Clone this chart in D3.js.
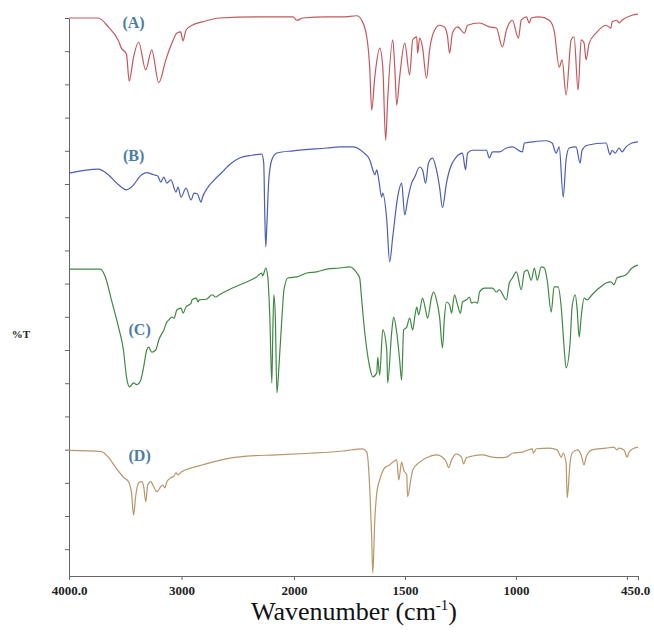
<!DOCTYPE html>
<html>
<head>
<meta charset="utf-8">
<script src="https://cdn.jsdelivr.net/npm/d3@7"></script>
<style>
  body { margin: 0; background: #fff; }
  svg { display: block; }
</style>
</head>
<body>
<svg id="chart" width="654" height="634"></svg>
<script>
// ---- DATA: [wavenumber (cm-1), %T (offset display units)] ----
const specA = [
[4000,100.0],[3740,100.0],[3650,98.4],[3560,95.9],[3534,94.6],[3489,93.5],[3465,88.7],[3426,93.0],[3381,95.7],[3318,90.7],[3265,94.3],[3202,88.4],[3139,92.5],[3085,95.5],[3040,97.3],[3007,97.5],[2987,95.9],[2960,97.8],[2906,98.7],[2816,99.3],[2664,100.0],[2305,100.2],[2009,100.2],[1987,99.6],[1960,100.0],[1852,100.2],[1780,100.2],[1717,100.4],[1695,99.6],[1672,96.6],[1659,91.2],[1650,83.5],[1636,89.4],[1614,94.6],[1600,91.2],[1587,78.1],[1578,85.3],[1555,96.1],[1546,91.2],[1537,84.4],[1524,89.4],[1501,95.5],[1479,89.8],[1465,96.1],[1447,96.6],[1443,93.7],[1434,96.4],[1421,94.8],[1403,89.2],[1389,94.3],[1367,97.8],[1344,98.7],[1322,98.4],[1308,96.6],[1299,93.7],[1286,97.3],[1263,98.4],[1232,97.3],[1218,98.7],[1164,99.1],[1120,98.4],[1088,98.2],[1061,94.8],[1043,97.8],[1016,99.6],[989,96.4],[976,99.6],[953,100.2],[940,99.1],[931,100.0],[895,100.2],[850,99.6],[828,97.8],[805,91.2],[792,92.5],[774,86.2],[751,96.1],[738,96.6],[720,87.1],[706,96.1],[693,95.5],[684,92.5],[670,95.5],[639,97.3],[594,98.7],[572,98.2],[567,99.3],[545,99.6],[535,99.1],[522,99.6],[477,100.5],[450,100.7]
];
const specB = [
[4000,72.2],[3740,72.9],[3650,71.9],[3560,70.1],[3489,69.2],[3444,69.7],[3354,71.9],[3309,72.3],[3247,71.9],[3211,71.7],[3184,70.6],[3157,71.5],[3130,70.4],[3094,71.0],[3049,68.8],[3031,69.7],[3004,67.9],[2960,69.5],[2915,67.4],[2888,68.6],[2861,68.5],[2825,67.0],[2816,67.7],[2771,69.5],[2708,71.0],[2637,72.4],[2574,73.7],[2484,74.9],[2376,75.4],[2287,75.6],[2269,74.0],[2260,65.1],[2251,59.0],[2242,62.5],[2224,71.0],[2197,74.6],[2152,75.8],[2009,76.2],[1852,76.7],[1793,76.9],[1735,76.9],[1690,76.0],[1659,74.6],[1645,72.8],[1636,71.9],[1627,72.8],[1618,71.0],[1605,67.9],[1600,68.6],[1582,63.8],[1569,56.3],[1555,60.8],[1533,67.9],[1515,70.4],[1501,64.7],[1488,67.4],[1470,70.4],[1456,71.5],[1434,73.3],[1421,72.8],[1407,70.4],[1394,74.0],[1376,74.9],[1358,72.8],[1344,69.7],[1331,66.0],[1313,70.4],[1299,72.8],[1268,75.1],[1241,75.8],[1227,72.8],[1218,75.8],[1196,76.3],[1133,76.3],[1120,74.9],[1106,76.0],[1075,76.0],[1043,76.7],[1016,76.9],[971,76.0],[962,77.6],[926,77.8],[864,78.0],[837,77.6],[819,75.8],[805,76.9],[787,67.9],[774,74.6],[760,76.7],[729,76.9],[711,74.0],[702,76.3],[679,77.2],[594,77.6],[576,75.5],[567,76.3],[553,75.8],[535,76.7],[522,76.0],[504,76.9],[477,77.6],[450,77.8]
];
const specC = [
[4000,55.0],[3722,55.0],[3677,53.6],[3623,49.5],[3560,44.6],[3516,40.5],[3489,35.7],[3462,33.9],[3426,34.6],[3399,34.3],[3363,35.1],[3336,37.5],[3309,40.5],[3291,41.0],[3264,40.1],[3229,40.5],[3202,42.3],[3157,44.1],[3130,45.5],[3112,45.9],[3085,46.4],[3067,46.2],[3040,47.7],[3004,48.0],[2986,47.1],[2960,48.2],[2915,48.9],[2906,49.5],[2870,49.8],[2852,49.1],[2843,49.5],[2780,49.6],[2726,50.4],[2699,50.0],[2664,50.4],[2547,51.6],[2421,52.7],[2332,53.6],[2287,54.3],[2278,53.8],[2251,55.2],[2233,53.6],[2215,46.4],[2197,34.6],[2188,44.1],[2179,50.4],[2166,46.4],[2152,32.8],[2134,37.5],[2107,46.4],[2089,51.3],[2054,53.4],[1987,53.6],[1942,54.3],[1897,54.5],[1852,55.0],[1793,55.2],[1748,55.4],[1717,54.3],[1704,53.4],[1695,49.5],[1681,43.6],[1659,37.5],[1645,35.7],[1627,36.4],[1623,39.2],[1614,36.0],[1600,44.1],[1582,40.5],[1578,34.6],[1560,43.6],[1551,46.4],[1537,43.6],[1524,38.7],[1515,35.1],[1506,44.1],[1492,44.6],[1479,46.2],[1465,44.1],[1456,46.4],[1447,48.2],[1438,46.8],[1421,49.8],[1407,47.7],[1398,46.2],[1380,50.0],[1371,50.9],[1358,49.5],[1344,46.4],[1331,40.9],[1322,46.4],[1313,49.1],[1299,48.6],[1290,47.1],[1277,50.4],[1263,48.6],[1250,47.1],[1241,49.1],[1223,49.5],[1209,50.0],[1200,48.9],[1187,49.1],[1173,48.9],[1164,50.9],[1142,51.6],[1106,51.6],[1088,50.9],[1075,51.3],[1043,49.5],[1030,52.5],[1016,53.4],[998,54.5],[976,51.3],[962,54.5],[949,54.8],[931,53.0],[917,55.2],[904,53.0],[886,55.4],[872,55.2],[859,53.0],[841,47.3],[828,51.8],[810,51.8],[796,48.2],[783,41.0],[774,37.3],[756,41.8],[747,48.2],[733,50.4],[724,47.7],[715,42.8],[706,46.4],[693,49.8],[679,49.5],[657,50.4],[625,51.6],[594,52.5],[572,52.7],[558,52.2],[545,53.4],[504,54.0],[477,55.2],[450,55.7]
];
const specD = [
[4000,22.5],[3713,22.3],[3650,21.3],[3587,19.5],[3516,17.7],[3471,16.9],[3444,14.9],[3426,10.9],[3408,14.2],[3381,16.7],[3354,16.9],[3336,16.0],[3318,13.3],[3300,16.3],[3273,16.9],[3247,16.0],[3220,15.1],[3184,16.0],[3166,16.3],[3148,15.8],[3130,16.9],[3094,17.6],[3067,17.9],[3049,18.5],[3031,18.1],[3004,18.6],[2906,19.4],[2816,19.9],[2690,20.6],[2547,21.2],[2421,21.5],[2152,21.7],[1928,22.0],[1780,22.4],[1690,22.8],[1672,22.2],[1659,16.0],[1650,7.0],[1645,0.5],[1636,10.0],[1627,14.9],[1614,17.2],[1591,19.4],[1569,19.9],[1555,20.4],[1537,20.8],[1528,17.2],[1515,20.4],[1506,19.0],[1492,18.1],[1488,14.2],[1474,17.2],[1465,19.0],[1434,20.4],[1403,21.2],[1358,21.7],[1331,21.3],[1313,20.4],[1304,19.4],[1290,20.8],[1268,21.9],[1245,21.3],[1236,20.1],[1223,21.2],[1196,21.5],[1151,21.7],[1106,21.3],[1075,21.2],[1043,21.3],[1016,22.0],[971,22.2],[926,22.8],[922,22.0],[908,22.8],[850,22.9],[814,22.6],[796,21.3],[787,22.0],[774,20.3],[769,14.0],[756,20.3],[747,22.0],[724,22.6],[706,21.7],[693,19.9],[684,21.3],[657,22.6],[594,22.9],[558,23.1],[545,22.6],[535,22.9],[513,22.6],[499,21.3],[490,22.2],[468,22.9],[450,23.1]
];
const seriesLabels = ["(A)", "(B)", "(C)", "(D)"];
const labelPos = [[3426, 98.9], [3426, 75.1], [3372, 43.9], [3372, 21.2]]; // [wavenumber, %T]
const xTickValues = [4000, 3000, 2000, 1500, 1000, 500, 450];
const xTickLabels = {4000: "4000.0", 3000: "3000", 2000: "2000", 1500: "1500", 1000: "1000", 500: "", 450: "450.0"};
const yTickValues = d3.range(17).map(i => 100 - i * 5.95);

// ---- CHART ----
const svg = d3.select("#chart");
const colors = ["#c4575b", "#4d5db4", "#3f8844", "#b9956a"];

const x = d3.scaleLinear().domain([4000, 2000, 450]).range([69, 294, 638]);
const y = d3.scaleLinear().domain([0, 100]).range([576, 18]);

// axes
const xAxis = d3.axisBottom(x).tickValues(xTickValues).tickSize(4).tickSizeOuter(0)
  .tickFormat(d => xTickLabels[d]);
const gx = svg.append("g").attr("transform", `translate(0,${y(0)})`).call(xAxis);
gx.select(".domain").attr("stroke", "#666");
gx.selectAll(".tick line").attr("stroke", "#666");
gx.selectAll(".tick text")
  .attr("y", 10)
  .attr("fill", "#222")
  .attr("font-family", "Liberation Serif, serif")
  .attr("font-weight", "bold")
  .attr("font-size", 13)
  .attr("transform", d => d === 450 ? "translate(-3,0)" : null);

const yAxis = d3.axisLeft(y).tickValues(yTickValues).tickSize(4).tickSizeOuter(0).tickFormat("");
const gy = svg.append("g").attr("transform", `translate(${x(4000)},0)`).call(yAxis);
gy.select(".domain").attr("stroke", "#666");
gy.selectAll(".tick line").attr("stroke", "#666");

// spectra
const line = d3.line().x(d => x(d[0])).y(d => y(d[1])).curve(d3.curveMonotoneX);
[specA, specB, specC, specD].forEach((s, i) => {
  svg.append("path").datum(s)
    .attr("fill", "none")
    .attr("stroke", colors[i])
    .attr("stroke-width", 1.2)
    .attr("stroke-linejoin", "round")
    .attr("d", line);
});

// series labels
svg.append("g").selectAll("text").data(seriesLabels).join("text")
  .attr("x", (d, i) => x(labelPos[i][0]))
  .attr("y", (d, i) => y(labelPos[i][1]))
  .attr("text-anchor", "middle")
  .attr("dominant-baseline", "middle")
  .attr("fill", "#4a7ea6")
  .attr("font-family", "Liberation Serif, serif")
  .attr("font-weight", "bold")
  .attr("font-size", 16)
  .text(d => d);

// y label
svg.append("text")
  .attr("x", 21).attr("y", 338)
  .attr("text-anchor", "middle")
  .attr("fill", "#222")
  .attr("font-family", "Liberation Serif, serif")
  .attr("font-weight", "bold")
  .attr("font-size", 11)
  .text("%T");

// x title
const xt = svg.append("text")
  .attr("x", 354).attr("y", 620)
  .attr("text-anchor", "middle")
  .attr("fill", "#111")
  .attr("font-family", "Liberation Serif, serif")
  .attr("font-size", 26);
xt.append("tspan").text("Wavenumber (cm");
xt.append("tspan").attr("dy", -10).attr("font-size", 15).text("-1");
xt.append("tspan").attr("dy", 10).text(")");
</script>
</body>
</html>
